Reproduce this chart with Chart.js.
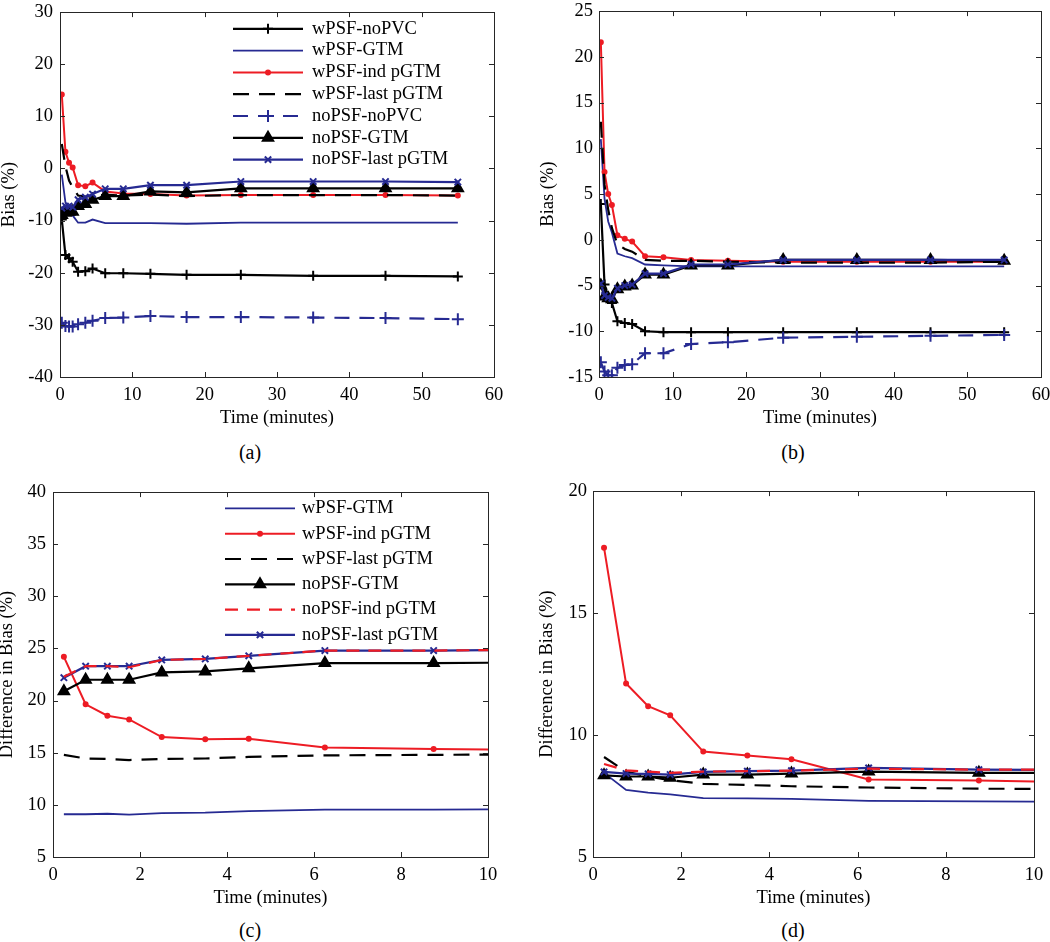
<!DOCTYPE html>
<html>
<head>
<meta charset="utf-8">
<script src="https://cdn.jsdelivr.net/npm/chart.js@4.4.1/dist/chart.umd.min.js"></script>
<style>
  html, body { margin: 0; padding: 0; background: #fff; overflow: hidden; width: 1050px; height: 942px; }
  canvas { position: absolute; }
  .sub { position: absolute; font-family: 'Liberation Serif', 'Times New Roman', serif; font-size: 20px;
         transform: translate(-50%, -50%); color: #000; }
</style>
</head>
<body>
<canvas id="chartA" width="516" height="435" style="left:-2px;top:-6px"></canvas>
<canvas id="chartB" width="524" height="435" style="left:537px;top:-6px"></canvas>
<canvas id="chartC" width="512" height="435" style="left:-4px;top:474px"></canvas>
<canvas id="chartD" width="518" height="435" style="left:536px;top:474px"></canvas>
<div class="sub" style="left:250px;top:452px">(a)</div>
<div class="sub" style="left:793px;top:452px">(b)</div>
<div class="sub" style="left:250px;top:930px">(c)</div>
<div class="sub" style="left:793px;top:930px">(d)</div>

<script>
// ── 時間軸（分）──────────────────────────────
const timeFull = [0.25, 0.75, 1.25, 1.75, 2.5, 3.5, 4.5, 6.25, 8.75, 12.5, 17.5, 25, 35, 45, 55];
const timeEarly = [0.25, 0.75, 1.25, 1.75, 2.5, 3.5, 4.5, 6.25, 8.75, 12.5];

// ── (a) Bias ───────────────────────────────
const aWpsfNoPvc     = [-9.8, -16.6, -17.2, -17.9, -19.8, -19.7, -19.2, -20.1, -20.1, -20.2, -20.4, -20.4, -20.6, -20.6, -20.7];
const aWpsfGtm       = [-1.2, -6.5, -8.0, -9.0, -10.4, -10.4, -9.8, -10.5, -10.5, -10.5, -10.6, -10.4, -10.4, -10.4, -10.4];
const aWpsfIndPgtm   = [14.2, 3.2, 1.1, 0.2, -3.2, -3.4, -2.7, -4.4, -4.8, -4.9, -5.2, -5.1, -5.1, -5.1, -5.2];
const aWpsfLastPgtm  = [4.7, 0.4, -2.3, -3.6, -5.2, -5.4, -5.3, -5.0, -5.2, -5.0, -5.3, -5.1, -5.1, -5.1, -5.2];
const aNoPsfNoPvc    = [-29.6, -30.2, -30.3, -30.3, -29.9, -29.6, -29.2, -28.7, -28.6, -28.3, -28.5, -28.5, -28.6, -28.7, -28.9];
const aNoPsfGtm      = [-8.9, -8.5, -8.3, -8.3, -7.2, -6.8, -6.0, -5.3, -5.3, -4.4, -4.6, -3.8, -3.8, -3.8, -3.8];
const aNoPsfLastPgtm = [-7.6, -7.2, -7.2, -7.4, -6.0, -5.5, -4.9, -3.9, -3.9, -3.2, -3.2, -2.5, -2.5, -2.5, -2.6];

// ── (b) Bias ───────────────────────────────
const bWpsfNoPvc     = [3.9, -4.9, -6.2, -6.9, -8.9, -9.1, -9.2, -10.0, -10.1, -10.1, -10.1, -10.1, -10.1, -10.1, -10.1];
const bWpsfGtm       = [11.0, 4.5, 2.0, 0.8, -1.5, -1.8, -2.0, -2.7, -2.8, -2.9, -2.9, -2.9, -2.9, -2.9, -2.9];
const bWpsfIndPgtm   = [21.6, 7.4, 5.0, 3.8, 0.5, 0.1, -0.2, -1.8, -1.9, -2.2, -2.3, -2.4, -2.4, -2.4, -2.4];
const bWpsfLastPgtm  = [12.9, 6.0, 3.3, 1.3, -0.5, -1.0, -1.3, -2.2, -2.3, -2.3, -2.4, -2.5, -2.5, -2.5, -2.4];
const bNoPsfNoPvc    = [-13.4, -14.4, -14.8, -14.8, -14.0, -13.7, -13.6, -12.4, -12.4, -11.4, -11.2, -10.7, -10.6, -10.5, -10.4];
const bNoPsfGtm      = [-5.0, -6.2, -6.4, -6.5, -5.4, -5.1, -5.0, -3.8, -3.8, -2.8, -2.8, -2.2, -2.2, -2.2, -2.3];
const bNoPsfLastPgtm = [-4.8, -6.1, -6.3, -6.4, -5.3, -5.0, -4.9, -3.7, -3.7, -2.7, -2.7, -2.2, -2.2, -2.2, -2.2];

// ── (c) Difference in Bias ─────────────────
const cWpsfGtm       = [9.1, 9.1, 9.15, 9.07, 9.2, 9.25, 9.4, 9.55, 9.55, 9.6];
const cWpsfIndPgtm   = [24.2, 19.65, 18.55, 18.2, 16.5, 16.3, 16.35, 15.5, 15.35, 15.2];
const cWpsfLastPgtm  = [14.8, 14.45, 14.4, 14.3, 14.4, 14.45, 14.6, 14.75, 14.8, 14.85];
const cNoPsfGtm      = [20.9, 22.0, 22.0, 22.0, 22.7, 22.8, 23.1, 23.6, 23.6, 23.7];
const cNoPsfIndPgtm  = [22.3, 23.3, 23.3, 23.2, 23.9, 24.0, 24.3, 24.8, 24.8, 24.95];
const cNoPsfLastPgtm = [22.2, 23.3, 23.3, 23.3, 23.9, 24.0, 24.3, 24.8, 24.8, 24.9];

// ── (d) Difference in Bias ─────────────────
const dWpsfGtm       = [8.45, 7.75, 7.64, 7.57, 7.41, 7.4, 7.38, 7.3, 7.28, 7.26];
const dWpsfIndPgtm   = [17.68, 12.11, 11.18, 10.81, 9.32, 9.16, 9.01, 8.18, 8.14, 8.0];
const dWpsfLastPgtm  = [9.1, 8.5, 8.3, 8.15, 8.0, 7.95, 7.9, 7.85, 7.8, 7.78];
const dNoPsfGtm      = [8.35, 8.3, 8.3, 8.25, 8.38, 8.38, 8.42, 8.5, 8.45, 8.45];
const dNoPsfIndPgtm  = [8.81, 8.55, 8.5, 8.45, 8.5, 8.52, 8.54, 8.62, 8.58, 8.58];
const dNoPsfLastPgtm = [8.49, 8.42, 8.41, 8.38, 8.49, 8.52, 8.54, 8.65, 8.58, 8.55];

const FONT  = "'Liberation Serif', 'Times New Roman', serif";
const BLUE  = '#262a92';
const RED   = '#ed1c24';
const BLACK = '#000000';

// 系列ごとの線種・マーカー（top: 最前面に描く）
const STYLES = {
  'wPSF-noPVC':      { color: BLACK, width: 2.2, dash: [],       marker: 'cross',    radius: 5 },
  'wPSF-GTM':        { color: BLUE,  width: 1.8, dash: [],       marker: false,      radius: 0 },
  'wPSF-ind pGTM':   { color: RED,   width: 2,   dash: [],       marker: 'circle',   radius: 2 },
  'wPSF-last pGTM':  { color: BLACK, width: 2.2, dash: [16, 10], marker: false,      radius: 0 },
  'noPSF-noPVC':     { color: BLUE,  width: 2.2, dash: [15, 10], marker: 'cross',    radius: 6 },
  'noPSF-GTM':       { color: BLACK, width: 2.2, dash: [],       marker: 'triangle', radius: 6 },
  'noPSF-ind pGTM':  { color: RED,   width: 2.2, dash: [13, 9],  marker: false,      radius: 0, top: true },
  'noPSF-last pGTM': { color: BLUE,  width: 2.2, dash: [],       marker: 'crossRot', radius: 4.5 },
};

function makeDatasets(times, series) {
  return series.map(([name, values], i) => {
    const s = STYLES[name];
    return {
      label:                name,
      data:                 values.map((v, k) => ({ x: times[k], y: v })),
      showLine:             true,
      borderColor:          s.color,
      backgroundColor:      s.color,
      borderWidth:          s.width,
      borderDash:           s.dash,
      tension:              0,
      pointStyle:           s.marker || 'circle',
      pointRadius:          s.radius,
      pointBackgroundColor: s.color,
      pointBorderColor:     s.color,
      pointBorderWidth:     2,
      order:                s.top ? 0 : series.length - i,
    };
  });
}

// MATLAB風の枠と内向き目盛り
const matlabAxes = {
  id: 'matlabAxes',
  afterDatasetsDraw(chart) {
    const { ctx, chartArea: a, scales: { x, y } } = chart;
    const t = 5;
    ctx.save();
    ctx.strokeStyle = '#262626';
    ctx.lineWidth = 1;
    ctx.beginPath();
    x.ticks.forEach(tk => {
      const px = Math.round(x.getPixelForValue(tk.value)) + 0.5;
      ctx.moveTo(px, a.bottom); ctx.lineTo(px, a.bottom - t);
      ctx.moveTo(px, a.top);    ctx.lineTo(px, a.top + t);
    });
    y.ticks.forEach(tk => {
      const py = Math.round(y.getPixelForValue(tk.value)) + 0.5;
      ctx.moveTo(a.left, py);  ctx.lineTo(a.left + t, py);
      ctx.moveTo(a.right, py); ctx.lineTo(a.right - t, py);
    });
    ctx.stroke();
    ctx.strokeRect(Math.round(a.left) + 0.5, Math.round(a.top) + 0.5,
                   Math.round(a.right - a.left), Math.round(a.bottom - a.top));
    ctx.restore();
  }
};

// 線＋マーカーの凡例（プロット内）
const lineLegend = {
  id: 'lineLegend',
  afterDraw(chart, args, opts) {
    const { ctx, chartArea: a } = chart;
    chart.data.datasets.forEach((ds, i) => {
      const x0 = a.left + opts.x;
      const y0 = a.top + opts.y + i * opts.rowH;
      ctx.save();
      ctx.strokeStyle = ds.borderColor;
      ctx.lineWidth = ds.borderWidth;
      ctx.setLineDash(ds.borderDash || []);
      ctx.beginPath();
      ctx.moveTo(x0, y0);
      ctx.lineTo(x0 + opts.lineLen, y0);
      ctx.stroke();
      ctx.setLineDash([]);
      if (ds.pointRadius > 0) {
        ctx.fillStyle = ds.pointBackgroundColor;
        ctx.strokeStyle = ds.pointBorderColor;
        ctx.lineWidth = ds.pointBorderWidth;
        Chart.helpers.drawPoint(ctx, {
          pointStyle: ds.pointStyle, radius: ds.pointRadius, rotation: 0, borderWidth: ds.pointBorderWidth,
        }, x0 + opts.lineLen / 2, y0);
      }
      ctx.fillStyle = '#000';
      ctx.font = `18.5px ${FONT}`;
      ctx.textBaseline = 'middle';
      ctx.fillText(ds.label, x0 + opts.lineLen + opts.gap, y0);
      ctx.restore();
    });
  }
};

function makeChart(id, p) {
  const tickFont = { family: FONT, size: 18.5 };
  return new Chart(document.getElementById(id), {
    type: 'scatter',
    data: { datasets: p.datasets },
    plugins: p.legend ? [matlabAxes, lineLegend] : [matlabAxes],
    options: {
      responsive: false,
      animation:  false,
      events:     [],
      layout:     { padding: { top: 12, right: 20, bottom: 0, left: 0 } },
      plugins: {
        legend:     { display: false },
        tooltip:    { enabled: false },
        lineLegend: p.legend || {},
      },
      scales: {
        x: {
          type: 'linear', min: 0, max: p.xMax,
          grid:   { display: false, drawTicks: false },
          border: { display: false },
          ticks:  { stepSize: p.xStep, color: '#000', font: tickFont, padding: 7, maxRotation: 0 },
          title:  { display: true, text: 'Time (minutes)', color: '#000', font: tickFont, padding: 0 },
          afterFit: (s) => { s.height = 52; },
        },
        y: {
          type: 'linear', min: p.yMin, max: p.yMax,
          grid:   { display: false, drawTicks: false },
          border: { display: false },
          ticks:  { stepSize: p.yStep, color: '#000', font: tickFont, padding: p.yPad },
          title:  { display: true, text: p.yTitle, color: '#000', font: tickFont, padding: 0 },
          afterFit: (s) => { s.width = p.yWidth; },
        },
      },
    },
  });
}

document.addEventListener('DOMContentLoaded', () => {
  makeChart('chartA', {
    datasets: makeDatasets(timeFull, [
      ['wPSF-noPVC', aWpsfNoPvc], ['wPSF-GTM', aWpsfGtm], ['wPSF-ind pGTM', aWpsfIndPgtm],
      ['wPSF-last pGTM', aWpsfLastPgtm], ['noPSF-noPVC', aNoPsfNoPvc], ['noPSF-GTM', aNoPsfGtm],
      ['noPSF-last pGTM', aNoPsfLastPgtm],
    ]),
    xMax: 60, xStep: 10, yMin: -40, yMax: 30, yStep: 10,
    yTitle: 'Bias (%)', yWidth: 62, yPad: 7,
    legend: { x: 173, y: 16.7, rowH: 21.8, lineLen: 70, gap: 9 },
  });

  makeChart('chartB', {
    datasets: makeDatasets(timeFull, [
      ['wPSF-noPVC', bWpsfNoPvc], ['wPSF-GTM', bWpsfGtm], ['wPSF-ind pGTM', bWpsfIndPgtm],
      ['wPSF-last pGTM', bWpsfLastPgtm], ['noPSF-noPVC', bNoPsfNoPvc], ['noPSF-GTM', bNoPsfGtm],
      ['noPSF-last pGTM', bNoPsfLastPgtm],
    ]),
    xMax: 60, xStep: 10, yMin: -15, yMax: 25, yStep: 5,
    yTitle: 'Bias (%)', yWidth: 62, yPad: 6,
  });

  makeChart('chartC', {
    datasets: makeDatasets(timeEarly, [
      ['wPSF-GTM', cWpsfGtm], ['wPSF-ind pGTM', cWpsfIndPgtm], ['wPSF-last pGTM', cWpsfLastPgtm],
      ['noPSF-GTM', cNoPsfGtm], ['noPSF-ind pGTM', cNoPsfIndPgtm], ['noPSF-last pGTM', cNoPsfLastPgtm],
    ]),
    xMax: 10, xStep: 2, yMin: 5, yMax: 40, yStep: 5,
    yTitle: 'Difference in Bias (%)', yWidth: 57, yPad: 7,
    legend: { x: 172, y: 16.3, rowH: 25.3, lineLen: 70, gap: 7 },
  });

  makeChart('chartD', {
    datasets: makeDatasets(timeEarly, [
      ['wPSF-GTM', dWpsfGtm], ['wPSF-ind pGTM', dWpsfIndPgtm], ['wPSF-last pGTM', dWpsfLastPgtm],
      ['noPSF-GTM', dNoPsfGtm], ['noPSF-ind pGTM', dNoPsfIndPgtm], ['noPSF-last pGTM', dNoPsfLastPgtm],
    ]),
    xMax: 10, xStep: 2, yMin: 5, yMax: 20, yStep: 5,
    yTitle: 'Difference in Bias (%)', yWidth: 57, yPad: 6,
  });
});
</script>
</body>
</html>
